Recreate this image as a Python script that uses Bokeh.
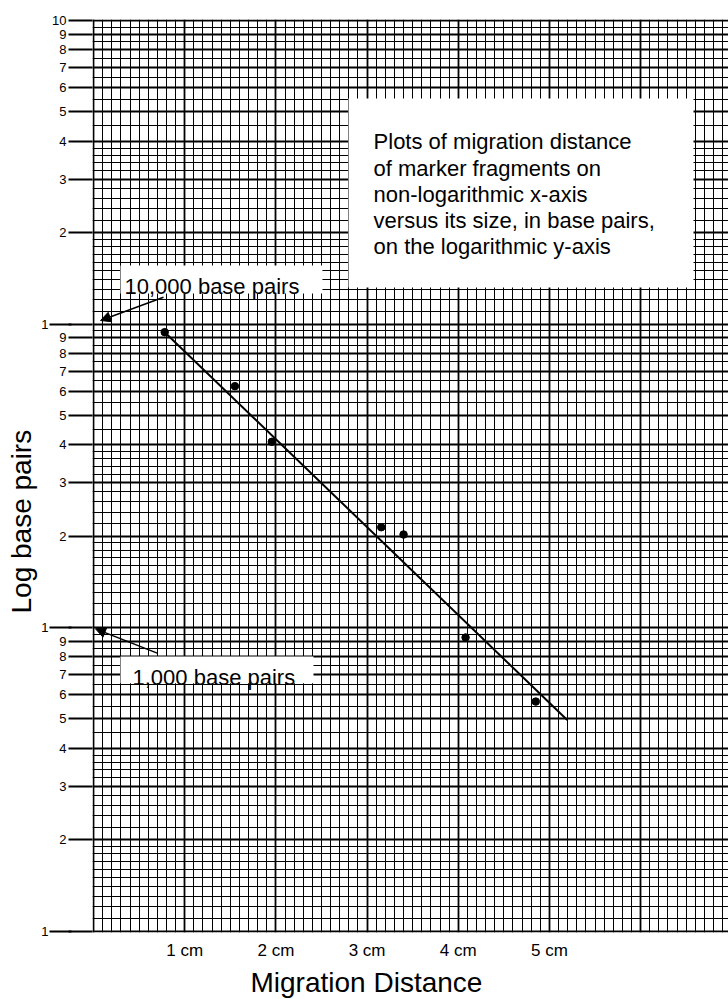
from bokeh.plotting import figure
from bokeh.models import (LogAxis, LinearAxis, FixedTicker, Grid, Label, Arrow,
                          NormalHead, BoxAnnotation, Range1d, Title)
from bokeh.embed import file_html
from bokeh.resources import INLINE

# ---------------- data ----------------
distance_cm = [0.78, 1.55, 1.955, 3.155, 3.40, 4.08, 4.85]
base_pairs = [9400, 6240, 4090, 2140, 2025, 927, 570]
fit_cm = [0.78, 5.195]
fit_bp = [9400, 496]

x_tick_values = [1, 2, 3, 4, 5]
x_tick_labels = ["1 cm", "2 cm", "3 cm", "4 cm", "5 cm"]

decades = [100, 1000, 10000]
top_value = 100000
y_mantissas = [1, 2, 3, 4, 5, 6, 7, 8, 9]
y_mantissa_labels = ["1", "2", "3", "4", "5", "6", "7", "8", "9"]
top_label = "10"
minor_mantissas = [1.1, 1.2, 1.3, 1.4, 1.5, 1.6, 1.7, 1.8, 1.9,
                   2.2, 2.4, 2.6, 2.8, 3.2, 3.4, 3.6, 3.8,
                   4.5, 5.5, 6.5, 7.5, 8.5, 9.5]
x_major_cm = [0, 1, 2, 3, 4, 5, 6]
x_minor_step_count = 69  # tenths of a cm

FONT = "Liberation Sans"

# ---------------- derived ticks ----------------
y_major = [m * d for d in decades for m in y_mantissas] + [top_value]
y_minor = [m * d for d in decades for m in minor_mantissas]
x_minor = [i / 10 for i in range(0, x_minor_step_count + 1) if i % 10 != 0]

inner_overrides = {}
for d in decades:
    for m, lab in zip(y_mantissas, y_mantissa_labels):
        inner_overrides[m * d] = "" if m == 1 else lab
inner_overrides[top_value] = top_label
outer_overrides = {d: "1" for d in decades}

dec_px = 303.5
y0 = decades[0] / 10 ** (1.5 / dec_px)
y1 = top_value * 10 ** (1.0 / dec_px)

p = figure(width=728, height=999,
           x_range=Range1d(-0.012, 6.964), y_range=Range1d(y0, y1),
           y_axis_type="log", x_axis_location=None, y_axis_location=None,
           toolbar_location=None, output_backend="svg",
           min_border_left=92, min_border_right=0,
           min_border_top=19, min_border_bottom=67)
p.outline_line_color = None
p.background_fill_color = "white"
p.border_fill_color = "white"

# ---------------- graph paper grid ----------------
p.add_layout(Grid(dimension=0, ticker=FixedTicker(ticks=x_minor),
                  grid_line_color="black", grid_line_width=1))
p.add_layout(Grid(dimension=0, ticker=FixedTicker(ticks=x_major_cm),
                  grid_line_color="black", grid_line_width=1.8))
p.add_layout(Grid(dimension=1, ticker=FixedTicker(ticks=y_minor),
                  grid_line_color="black", grid_line_width=1))
p.add_layout(Grid(dimension=1, ticker=FixedTicker(ticks=y_major),
                  grid_line_color="black", grid_line_width=1.8))

# ---------------- axes ----------------
xaxis = LinearAxis(ticker=FixedTicker(ticks=x_tick_values),
                   major_label_overrides=dict(zip(x_tick_values, x_tick_labels)),
                   major_tick_out=0, major_tick_in=0, minor_tick_out=0,
                   axis_line_color=None, major_label_standoff=8,
                   major_label_text_font=FONT, major_label_text_font_size="17px",
                   major_label_text_color="black")
p.add_layout(xaxis, "below")

yaxis_inner = LogAxis(ticker=FixedTicker(ticks=y_major),
                      major_label_overrides=inner_overrides,
                      major_tick_out=24, major_tick_in=0, minor_tick_out=0,
                      major_tick_line_width=1.8, major_tick_line_color="black",
                      axis_line_color=None, major_label_standoff=2,
                      major_label_text_font=FONT, major_label_text_font_size="13px",
                      major_label_text_color="black",
                      major_label_text_baseline="alphabetic")
p.add_layout(yaxis_inner, "left")

yaxis_outer = LogAxis(ticker=FixedTicker(ticks=decades),
                      major_label_overrides=outer_overrides,
                      major_tick_out=0, major_tick_in=22, minor_tick_out=0,
                      major_tick_line_width=1.8, major_tick_line_color="black",
                      axis_line_color=None, major_label_standoff=1,
                      major_label_text_font=FONT, major_label_text_font_size="13px",
                      major_label_text_color="black",
                      major_label_text_baseline="alphabetic")
p.add_layout(yaxis_outer, "left")

p.add_layout(Title(text="Log base pairs", align="left", offset=319, standoff=4,
                   text_font=FONT, text_font_size="28px", text_font_style="normal",
                   text_color="black"), "left")
p.add_layout(Title(text="Migration Distance", align="left", offset=158, standoff=4,
                   text_font=FONT, text_font_size="28px", text_font_style="normal",
                   text_color="black"), "below")

# ---------------- data marks ----------------
p.line(fit_cm, fit_bp, line_color="black", line_width=2)
p.scatter(distance_cm, base_pairs, size=7.5, fill_color="black", line_color="black")

# ---------------- annotations ----------------
p.add_layout(BoxAnnotation(left=2.796, right=6.58, top=55335, bottom=13190,
                           fill_color="white", fill_alpha=1, line_color=None))
p.add_layout(BoxAnnotation(left=0.295, right=2.51, top=15590, bottom=12604,
                           fill_color="white", fill_alpha=1, line_color=None))
p.add_layout(BoxAnnotation(left=0.295, right=2.412, top=802, bottom=655.5,
                           fill_color="white", fill_alpha=1, line_color=None))

p.add_layout(Label(x=3.071, y=43740,
                   text="Plots of migration distance\nof marker fragments on\n"
                        "non-logarithmic x-axis\nversus its size, in base pairs,\n"
                        "on the logarithmic y-axis",
                   text_font=FONT, text_font_size="22px", text_color="black",
                   text_baseline="top", text_align="left", text_line_height=1.05))
p.add_layout(Label(x=0.339, y=13290, text="10,000 base pairs",
                   text_font=FONT, text_font_size="22px", text_color="black",
                   text_baseline="alphabetic"))
p.add_layout(Label(x=0.427, y=683, text="1,000 base pairs",
                   text_font=FONT, text_font_size="22px", text_color="black",
                   text_baseline="alphabetic"))

p.add_layout(Arrow(x_start=0.767, y_start=12250, x_end=0.076, y_end=10270,
                   line_color="black", line_width=1.5,
                   end=NormalHead(size=10, fill_color="black", line_color="black")))
p.add_layout(Arrow(x_start=0.698, y_start=823, x_end=0.021, y_end=990,
                   line_color="black", line_width=1.5,
                   end=NormalHead(size=10, fill_color="black", line_color="black")))

open("out.html", "w").write(file_html(p, INLINE))
